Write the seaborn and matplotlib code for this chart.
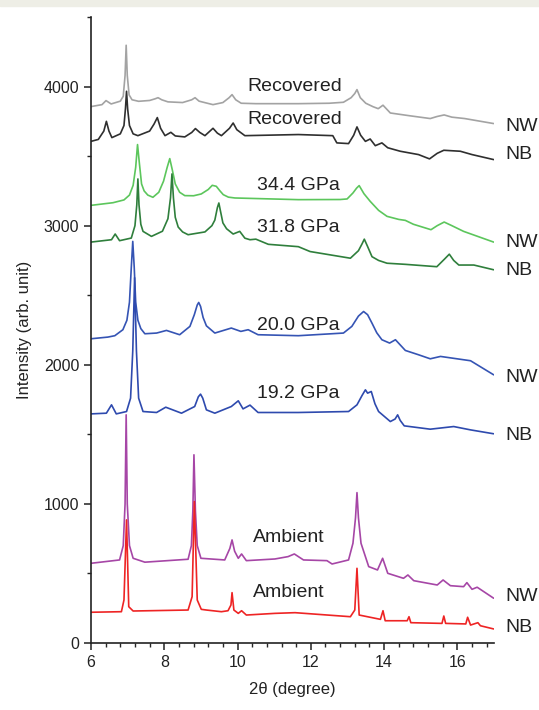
import seaborn as sns
import matplotlib.pyplot as plt
import matplotlib.ticker as ticker
from matplotlib.patches import Rectangle
import pandas as pd

# 2theta / intensity pairs, one pair of lists per pattern
rec_nw_x = [6.0, 6.3, 6.41, 6.55, 6.8, 6.88, 6.93, 6.96, 6.99, 7.04, 7.12, 7.3, 7.6, 7.75, 7.83, 7.93, 8.1, 8.5, 8.75, 8.84, 8.95, 9.1, 9.33, 9.6, 9.77, 9.85, 9.95, 10.1, 10.5, 11.66, 12.5, 12.89, 13.1, 13.2, 13.26, 13.35, 13.5, 13.7, 13.84, 13.97, 14.17, 14.7, 15.26, 15.45, 15.64, 15.85, 16.2, 16.99]
rec_nw_y = [3856, 3870, 3899, 3875, 3895, 3930, 4080, 4297, 4080, 3940, 3905, 3894, 3900, 3912, 3920, 3905, 3890, 3885, 3905, 3920, 3895, 3885, 3870, 3885, 3920, 3942, 3905, 3880, 3877, 3877, 3880, 3887, 3920, 3950, 3978, 3920, 3880, 3855, 3841, 3866, 3810, 3790, 3770, 3785, 3796, 3780, 3770, 3734]

rec_nb_x = [6.0, 6.2, 6.35, 6.42, 6.49, 6.57, 6.8, 6.9, 6.94, 6.97, 7.0, 7.05, 7.15, 7.28, 7.6, 7.72, 7.81, 7.9, 8.02, 8.18, 8.3, 8.56, 8.75, 8.85, 8.97, 9.11, 9.33, 9.45, 9.56, 9.78, 9.88, 9.98, 10.2, 11.66, 12.6, 12.71, 13.03, 13.17, 13.26, 13.36, 13.49, 13.62, 13.76, 13.94, 14.1, 14.44, 14.94, 15.24, 15.45, 15.63, 16.08, 16.4, 16.99]
rec_nb_y = [3606, 3620, 3680, 3750, 3680, 3633, 3660, 3720, 3840, 3966, 3840, 3720, 3660, 3647, 3680, 3730, 3777, 3700, 3647, 3671, 3645, 3638, 3670, 3698, 3670, 3647, 3700, 3665, 3647, 3700, 3738, 3690, 3647, 3655, 3647, 3595, 3590, 3650, 3710, 3650, 3606, 3623, 3575, 3595, 3560, 3535, 3511, 3480, 3520, 3542, 3535, 3511, 3475]

p344_x = [6.0, 6.6, 6.9, 7.05, 7.15, 7.22, 7.27, 7.32, 7.38, 7.45, 7.55, 7.69, 7.85, 7.98, 8.08, 8.15, 8.22, 8.3, 8.42, 8.56, 8.8, 9.01, 9.2, 9.31, 9.42, 9.52, 9.61, 9.75, 9.93, 11.66, 12.8, 12.99, 13.15, 13.25, 13.32, 13.45, 13.62, 13.85, 14.08, 14.4, 14.58, 14.8, 15.28, 15.45, 15.64, 15.85, 16.17, 16.99]
p344_y = [3146, 3165, 3185, 3220, 3290, 3420, 3583, 3450, 3300, 3250, 3220, 3204, 3240, 3320, 3420, 3482, 3400, 3300, 3240, 3216, 3215, 3228, 3260, 3290, 3283, 3250, 3223, 3205, 3199, 3187, 3188, 3192, 3235, 3270, 3288, 3230, 3175, 3110, 3067, 3045, 3038, 3010, 2971, 3000, 3026, 3000, 2959, 2882]

p318_x = [6.0, 6.56, 6.66, 6.78, 7.1, 7.2, 7.25, 7.28, 7.31, 7.36, 7.42, 7.65, 7.95, 8.1, 8.17, 8.21, 8.25, 8.3, 8.38, 8.5, 8.65, 9.11, 9.3, 9.38, 9.45, 9.49, 9.53, 9.6, 9.7, 9.88, 10.06, 10.2, 10.34, 10.5, 10.84, 11.66, 11.98, 12.53, 13.08, 13.3, 13.4, 13.46, 13.55, 13.67, 13.85, 14.08, 14.58, 15.44, 15.65, 15.78, 15.9, 16.04, 16.45, 16.99]
p318_y = [2882, 2899, 2940, 2892, 2911, 3000, 3150, 3336, 3150, 3010, 2959, 2923, 2960, 3050, 3200, 3372, 3200, 3060, 2990, 2955, 2935, 2955, 3000, 3040, 3130, 3163, 3110, 3020, 2978, 2940, 2959, 2910, 2899, 2903, 2866, 2849, 2814, 2790, 2766, 2820, 2870, 2903, 2850, 2777, 2750, 2730, 2722, 2705, 2760, 2795, 2750, 2717, 2717, 2683]

p200_x = [6.0, 6.46, 6.65, 6.87, 6.98, 7.05, 7.1, 7.14, 7.18, 7.22, 7.28, 7.36, 7.47, 7.79, 8.06, 8.42, 8.7, 8.82, 8.9, 8.94, 8.99, 9.06, 9.15, 9.38, 9.83, 10.09, 10.29, 10.56, 11.66, 12.89, 13.12, 13.3, 13.44, 13.55, 13.67, 13.8, 13.94, 14.15, 14.31, 14.58, 14.94, 15.26, 15.54, 16.36, 16.99]
p200_y = [2187, 2199, 2209, 2252, 2320, 2450, 2700, 2887, 2700, 2450, 2320, 2260, 2223, 2228, 2247, 2216, 2276, 2360, 2430, 2448, 2420, 2340, 2280, 2228, 2264, 2240, 2252, 2216, 2209, 2228, 2276, 2350, 2383, 2360, 2299, 2230, 2180, 2156, 2180, 2103, 2072, 2043, 2060, 2029, 1928]

p192_x = [6.0, 6.42, 6.56, 6.69, 6.97, 7.08, 7.14, 7.19, 7.24, 7.3, 7.42, 7.79, 8.04, 8.47, 8.83, 8.93, 8.99, 9.05, 9.15, 9.38, 9.83, 10.02, 10.15, 10.34, 10.56, 11.66, 13.03, 13.26, 13.4, 13.49, 13.55, 13.65, 13.75, 13.85, 14.17, 14.3, 14.37, 14.44, 14.55, 15.26, 15.9, 16.36, 16.99]
p192_y = [1647, 1652, 1712, 1647, 1664, 1760, 2100, 2626, 2100, 1760, 1664, 1657, 1695, 1652, 1700, 1770, 1789, 1760, 1676, 1652, 1700, 1741, 1683, 1710, 1657, 1657, 1664, 1712, 1780, 1820, 1796, 1808, 1720, 1664, 1592, 1610, 1640, 1600, 1561, 1537, 1556, 1532, 1504]

amb_nw_x = [6.0, 6.78, 6.88, 6.93, 6.96, 6.99, 7.05, 7.15, 7.47, 8.65, 8.74, 8.78, 8.81, 8.85, 8.9, 9.0, 9.65, 9.79, 9.85, 9.92, 10.02, 10.11, 10.24, 11.02, 11.38, 11.55, 11.8, 12.44, 12.58, 13.03, 13.15, 13.22, 13.26, 13.3, 13.37, 13.58, 13.82, 13.96, 14.1, 14.53, 14.65, 14.81, 15.45, 15.61, 15.81, 16.17, 16.26, 16.4, 16.54, 16.99]
amb_nw_y = [573, 597, 700, 1000, 1640, 1000, 700, 609, 581, 602, 700, 950, 1353, 950, 700, 609, 597, 680, 741, 660, 609, 640, 592, 604, 621, 640, 597, 592, 568, 597, 717, 900, 1081, 900, 717, 549, 525, 609, 501, 465, 489, 448, 417, 453, 412, 405, 434, 386, 401, 322]

amb_nb_x = [6.0, 6.83, 6.9, 6.97, 7.03, 7.15, 8.65, 8.76, 8.82, 8.9, 9.01, 9.15, 9.56, 9.74, 9.82, 9.85, 9.9, 10.02, 10.11, 10.24, 11.02, 11.57, 13.08, 13.2, 13.26, 13.32, 13.9, 13.97, 14.03, 14.63, 14.68, 14.73, 15.58, 15.63, 15.68, 16.23, 16.28, 16.36, 16.56, 16.63, 16.99]
amb_nb_y = [221, 225, 309, 885, 261, 230, 237, 333, 1017, 309, 242, 237, 225, 232, 273, 362, 237, 213, 232, 201, 213, 218, 189, 237, 537, 201, 170, 232, 160, 160, 189, 146, 141, 194, 141, 137, 185, 129, 146, 124, 101]

trace_x = [rec_nw_x, rec_nb_x, p344_x, p318_x, p200_x, p192_x, amb_nw_x, amb_nb_x]
trace_y = [rec_nw_y, rec_nb_y, p344_y, p318_y, p200_y, p192_y, amb_nw_y, amb_nb_y]
trace_colors = ["#a3a3a3", "#2f2f2f", "#5cc65c", "#2f7f3c", "#3554b4", "#2e4aae", "#a646a6", "#ee2424"]

pressure_labels = ["Recovered", "Recovered", "34.4 GPa", "31.8 GPa", "20.0 GPa", "19.2 GPa", "Ambient", "Ambient"]
pressure_label_x = [10.26, 10.26, 10.54, 10.54, 10.54, 10.54, 10.43, 10.43]
pressure_label_y = [4000, 3763, 3288, 2986, 2281, 1791, 755, 360]
sample_labels = ["NW", "NB", "NW", "NB", "NW", "NB", "NW", "NB"]
sample_label_y = [3712, 3511, 2878, 2680, 1906, 1489, 331, 108]

sns.set_style("ticks")
plt.rcParams['font.family'] = ['Liberation Sans', 'DejaVu Sans']

fig = plt.figure(figsize=(5.39, 7.10), dpi=100)
fig.patches.append(Rectangle((0, 1 - 6 / 710), 1, 6 / 710, transform=fig.transFigure,
                             color="#eeeee6", zorder=0))
ax = fig.add_axes([91 / 539, 67 / 710, (494 - 91) / 539, (643 - 17) / 710])

for i in range(len(trace_x)):
    df = pd.DataFrame({"two_theta": trace_x[i], "intensity": trace_y[i]})
    sns.lineplot(data=df, x="two_theta", y="intensity", ax=ax, color=trace_colors[i],
                 linewidth=1.2, estimator=None, sort=False)

for i in range(len(pressure_labels)):
    ax.text(pressure_label_x[i], pressure_label_y[i], pressure_labels[i],
            fontsize=14, va="center", ha="left", color="#222222")
    ax.text(17.3, sample_label_y[i], sample_labels[i], fontsize=14, va="center",
            ha="left", color="#222222", clip_on=False)

ax.set_xlim(6, 17)
ax.set_ylim(0, 4500)
ax.xaxis.set_major_locator(ticker.MultipleLocator(2))
ax.xaxis.set_minor_locator(ticker.MultipleLocator(0.4))
ax.yaxis.set_major_locator(ticker.MultipleLocator(1000))
ax.yaxis.set_minor_locator(ticker.MultipleLocator(500))
ax.tick_params(which="major", direction="out", length=5, width=1.1, labelsize=11.5, colors="#222222")
ax.tick_params(which="minor", direction="out", length=3, width=1.0)
for s in ["top", "right"]:
    ax.spines[s].set_visible(False)
for s in ["left", "bottom"]:
    ax.spines[s].set_linewidth(1.2)
    ax.spines[s].set_color("#222222")

ax.set_xlabel("2θ (degree)", fontsize=12, color="#222222", labelpad=9)
ax.set_ylabel("Intensity (arb. unit)", fontsize=12, color="#222222", labelpad=8)

fig.savefig("out.png", dpi=100)
